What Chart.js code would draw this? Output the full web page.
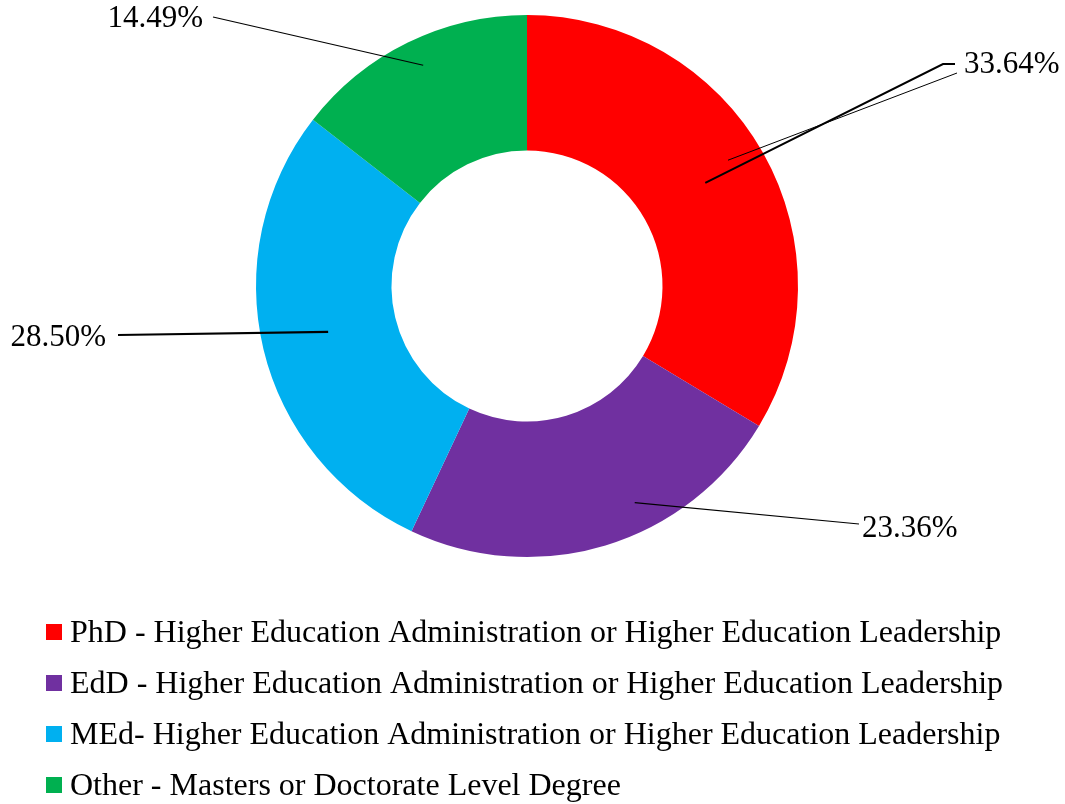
<!DOCTYPE html>
<html>
<head>
<meta charset="utf-8">
<script src="https://cdn.jsdelivr.net/npm/chart.js@4.4.1/dist/chart.umd.min.js"></script>
<style>
  html, body { margin: 0; padding: 0; background: #ffffff; }
  #wrap { width: 1065px; height: 804px; position: relative; }
</style>
</head>
<body>
<div id="wrap"><canvas id="chart"></canvas></div>
<script>
// Degree types and their share of respondents (%)
const categories = [
  'PhD - Higher Education Administration or Higher Education Leadership',
  'EdD - Higher Education Administration or Higher Education Leadership',
  'MEd- Higher Education Administration or Higher Education Leadership',
  'Other - Masters or Doctorate Level Degree'
];
const shares = [33.64, 23.36, 28.50, 14.49];
const sliceColors = ['#FF0000', '#7030A0', '#00B0F0', '#00B050'];

const SERIF = '"Liberation Serif", "Times New Roman", Times, serif';

// Callout labels: each leader starts inside its slice (angle shift from the
// slice middle in degrees, radius as a fraction of the outer radius) and runs
// to a point beside the label text.
const calloutStyle = [
  { angleShift: -0.6, radius: 0.76, end: [416, -222], elbow: [428, -222], text: [437, -221], align: 'left',  width: 2,
    extra: { angleShift: -2.6, radius: 0.875, end: [430, -213], width: 1 } },
  { angleShift: -9.6, radius: 0.893, end: [332, 238], text: [335, 243], align: 'left', width: 1.2 },
  { angleShift: 0.5,  radius: 0.753, end: [-409, 49], text: [-421, 52], align: 'right', width: 2.2 },
  { angleShift: 0.9,  radius: 0.90,  end: [-314, -269], text: [-324, -267], align: 'right', width: 1.2 }
];

const calloutPlugin = {
  id: 'callouts',
  afterDatasetsDraw(chart) {
    const ctx = chart.ctx;
    const meta = chart.getDatasetMeta(0);
    ctx.save();
    ctx.strokeStyle = '#000000';
    ctx.fillStyle = '#000000';
    ctx.font = '31px ' + SERIF;
    ctx.textBaseline = 'middle';
    meta.data.forEach((arc, i) => {
      const p = arc.getProps(['x', 'y', 'startAngle', 'endAngle', 'outerRadius'], true);
      const s = calloutStyle[i];
      const anchor = (shift, frac) => {
        const a = (p.startAngle + p.endAngle) / 2 + shift * Math.PI / 180;
        return [p.x + Math.cos(a) * p.outerRadius * frac, p.y + Math.sin(a) * p.outerRadius * frac];
      };
      const a0 = anchor(s.angleShift, s.radius);
      ctx.lineWidth = s.width;
      ctx.beginPath();
      ctx.moveTo(a0[0], a0[1]);
      ctx.lineTo(p.x + s.end[0], p.y + s.end[1]);
      if (s.elbow) ctx.lineTo(p.x + s.elbow[0], p.y + s.elbow[1]);
      ctx.stroke();
      if (s.extra) {
        const a1 = anchor(s.extra.angleShift, s.extra.radius);
        ctx.lineWidth = s.extra.width;
        ctx.beginPath();
        ctx.moveTo(a1[0], a1[1]);
        ctx.lineTo(p.x + s.extra.end[0], p.y + s.extra.end[1]);
        ctx.stroke();
      }
      ctx.textAlign = s.align;
      ctx.fillText(shares[i].toFixed(2) + '%', p.x + s.text[0], p.y + s.text[1]);
    });
    ctx.restore();
  }
};

// Legend stacked one entry per row under the ring
const legendPlugin = {
  id: 'stackedLegend',
  afterDraw(chart) {
    const ctx = chart.ctx;
    const o = chart.options.plugins.stackedLegend;
    ctx.save();
    ctx.font = o.fontSize + 'px ' + SERIF;
    ctx.textBaseline = 'alphabetic';
    ctx.textAlign = 'left';
    chart.data.labels.forEach((label, i) => {
      const y = o.top + i * o.rowGap;
      ctx.fillStyle = chart.data.datasets[0].backgroundColor[i];
      ctx.fillRect(o.left, y, o.box, o.box);
      ctx.fillStyle = '#000000';
      ctx.fillText(label, o.left + o.box + o.gap, y + o.baseline);
    });
    ctx.restore();
  }
};

new Chart(document.getElementById('chart'), {
  type: 'doughnut',
  data: {
    labels: categories,
    datasets: [{
      data: shares,
      backgroundColor: sliceColors,
      borderWidth: 0,
      hoverOffset: 0
    }]
  },
  options: {
    responsive: true,
    maintainAspectRatio: false,
    animation: false,
    cutout: '50%',
    layout: { padding: { top: 15, bottom: 247, left: 0, right: 11 } },
    plugins: {
      legend: { display: false },
      tooltip: { enabled: false },
      stackedLegend: { left: 46, top: 624, rowGap: 51, box: 16, gap: 8, fontSize: 32, baseline: 18 }
    }
  },
  plugins: [calloutPlugin, legendPlugin]
});
</script>
</body>
</html>
